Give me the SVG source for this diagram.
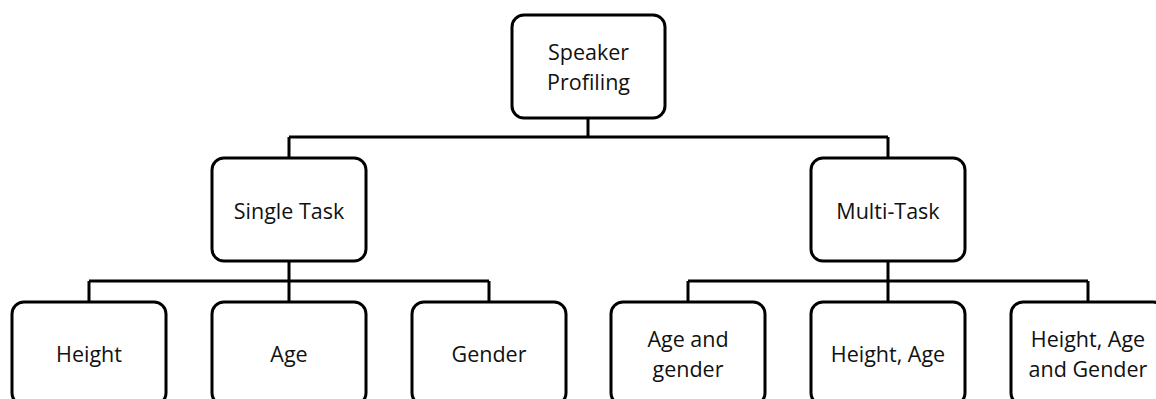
<svg xmlns="http://www.w3.org/2000/svg" width="1156" height="399" viewBox="0 0 1156 399">
  <style>
    .box { fill: #ffffff; stroke: #000000; stroke-width: 3; }
    .wire { fill: none; stroke: #000000; stroke-width: 3; }
    .label { font-family: "Open Sans", "Noto Sans", sans-serif; font-size: 21.5px; fill: #111111; text-anchor: middle; dominant-baseline: central; }
  </style>
  <rect width="1156" height="399" fill="#ffffff"/>

  <!-- tree connectors -->
  <g id="connectors">
    <path class="wire" d="M588,118 V137 M289,137 H888 M289,137 V158 M888,137 V158"/>
    <path class="wire" d="M289,261 V281 M89,281 H489 M89,281 V302 M289,281 V302 M489,281 V302"/>
    <path class="wire" d="M888,261 V281 M688,281 H1088 M688,281 V302 M888,281 V302 M1088,281 V302"/>
  </g>

  <g id="speaker-profiling">
    <rect class="box" x="512" y="15" width="153" height="103" rx="12"/>
    <text class="label" x="588.5" y="51.5">Speaker</text>
    <text class="label" x="588.5" y="81">Profiling</text>
  </g>

  <g id="single-task">
    <rect class="box" x="212" y="158" width="154" height="103" rx="12"/>
    <text class="label" x="289" y="210">Single Task</text>
  </g>

  <g id="multi-task">
    <rect class="box" x="811" y="158" width="154" height="103" rx="12"/>
    <text class="label" x="888" y="210">Multi-Task</text>
  </g>

  <g id="height">
    <rect class="box" x="12" y="302" width="154" height="103" rx="12"/>
    <text class="label" x="89" y="353">Height</text>
  </g>

  <g id="age">
    <rect class="box" x="212" y="302" width="154" height="103" rx="12"/>
    <text class="label" x="289" y="353">Age</text>
  </g>

  <g id="gender">
    <rect class="box" x="412" y="302" width="154" height="103" rx="12"/>
    <text class="label" x="489" y="353">Gender</text>
  </g>

  <g id="age-and-gender">
    <rect class="box" x="611" y="302" width="154" height="103" rx="12"/>
    <text class="label" x="688" y="338.5">Age and</text>
    <text class="label" x="688" y="368">gender</text>
  </g>

  <g id="height-age">
    <rect class="box" x="811" y="302" width="154" height="103" rx="12"/>
    <text class="label" x="888" y="353">Height, Age</text>
  </g>

  <g id="height-age-gender">
    <rect class="box" x="1011" y="302" width="154" height="103" rx="12"/>
    <text class="label" x="1088" y="338.5">Height, Age</text>
    <text class="label" x="1088" y="368">and Gender</text>
  </g>
</svg>
